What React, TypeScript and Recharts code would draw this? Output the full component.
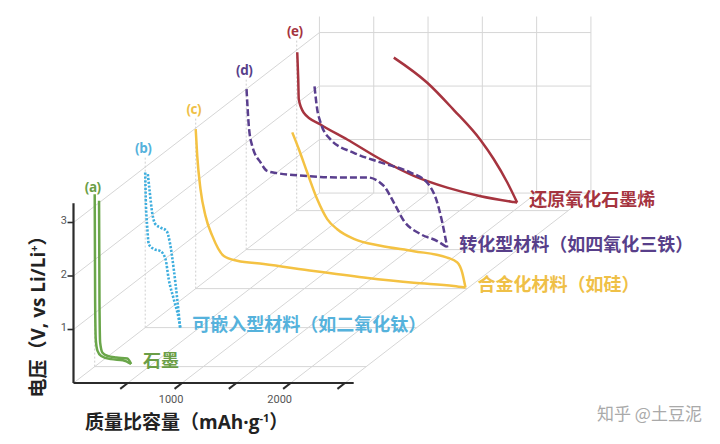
import React from 'react';
import { ComposedChart, Line, XAxis, YAxis } from 'recharts';

// each curve: [capacity mAh/g, voltage V vs Li/Li+]
const graphiteFirst = [[0, 3.22], [4, 1.2], [10, 0.5], [25, 0.3], [60, 0.2], [150, 0.14], [260, 0.12], [335, 0.05]];
const graphiteSecond = [[40, 3.1], [44, 1.2], [50, 0.45], [72, 0.26], [120, 0.2], [200, 0.17], [300, 0.15], [335, 0.05]];

const tio2Discharge = [[0, 2.9], [5, 2.4], [18, 1.9], [33, 1.56], [79, 1.47], [141, 1.43], [187, 1.28], [217, 0.9], [263, 0.53], [309, 0.16], [322, 0]];
const tio2Charge = [[24, 2.87], [42, 2.53], [64, 2.15], [95, 1.93], [141, 1.87], [196, 1.81], [227, 1.59], [263, 1.09], [295, 0.53], [322, 0]];

const siDischarge = [[0, 2.98], [14, 2.48], [44, 1.86], [90, 1.36], [152, 0.99], [259, 0.61], [382, 0.52], [627, 0.46], [1087, 0.33], [1548, 0.21], [2008, 0.11], [2377, 0.05], [2484, 0.02]];
const siCharge = [[889, 2.92], [949, 2.61], [1027, 2.17], [1119, 1.67], [1211, 1.3], [1303, 1.11], [1456, 0.93], [1702, 0.8], [2008, 0.7], [2316, 0.58], [2408, 0.49], [2454, 0.3], [2484, 0.02]];

const fe3o4Discharge = [[3, 3.0], [24, 2.31], [55, 1.94], [132, 1.63], [193, 1.47], [285, 1.43], [530, 1.38], [838, 1.35], [1114, 1.35], [1267, 1.19], [1359, 0.88], [1451, 0.54], [1605, 0.29], [1759, 0.16], [1851, 0.04]];
const fe3o4Charge = [[629, 3.05], [654, 2.62], [684, 2.38], [776, 2.06], [991, 1.81], [1237, 1.63], [1513, 1.44], [1667, 1.25], [1759, 0.88], [1805, 0.51], [1851, 0.04]];

const rgoDischarge = [[5, 2.96], [14, 2.46], [19, 2.08], [65, 1.83], [219, 1.61], [465, 1.33], [772, 0.96], [1078, 0.65], [1386, 0.43], [1694, 0.27], [1999, 0.16], [2030, 0.15]];
const rgoCharge = [[894, 2.86], [1202, 2.39], [1447, 1.88], [1692, 1.32], [1815, 0.96], [1938, 0.53], [2030, 0.15]];

const CAP_GRID = [0, 500, 1000, 1500, 2000, 2500];
const V_GRID = [0, 1, 2, 3];
const V_WALL = [1, 2, 3];
const FRONT_V_TICKS = [1, 2, 3];
const FRONT_CAP_TICKS = [500, 1000, 1500, 2000, 2500];
const FRONT_CAP_LABELS = [1000, 2000];

const W = 720;
const H = 444;

// oblique projection: capacity to the right, voltage up, depth up-right
const ORIGIN = { x: 73.5, y: 383 };
const CAP_PX = 0.1086;
const V_PX = 53.5;
const DEPTH = { x: 50.5, y: 39 };
const BACK_Z = 4.87;
const CAP_MAX = 2500;
const V_TOP = 3.3;
const PANEL_TOP = 3.2;

const proj = (cap: number, v: number, z: number) => ({
  x: ORIGIN.x + cap * CAP_PX + z * DEPTH.x,
  y: ORIGIN.y - v * V_PX - z * DEPTH.y,
});

const PANELS = [
  { id: 'e', z: 4.42, color: '#a6343f', dash: undefined, lines: [rgoDischarge, rgoCharge], label: '还原氧化石墨烯' },
  { id: 'd', z: 3.42, color: '#5a3f8e', dash: '7 3', lines: [fe3o4Discharge, fe3o4Charge], label: '转化型材料（如四氧化三铁）' },
  { id: 'c', z: 2.42, color: '#f4c243', dash: undefined, lines: [siDischarge, siCharge], label: '合金化材料（如硅）' },
  { id: 'b', z: 1.42, color: '#3eaede', dash: '2.2 1.6', lines: [tio2Discharge, tio2Charge], label: '可嵌入型材料（如二氧化钛）' },
  { id: 'a', z: 0.42, color: '#6aa64a', dash: undefined, lines: [graphiteFirst, graphiteSecond], label: '石墨' },
];

const LABEL_COLORS: Record<string, string> = {
  a: '#6b9e46', b: '#55b2dc', c: '#efc047', d: '#583f8a', e: '#a5343f',
};

const GRID = '#d6d6d6';

type Seg = { id: string; data: { x: number; y: number }[]; stroke: string; width: number; dash?: string };

const seg = (id: string, a: { x: number; y: number }, b: { x: number; y: number }, stroke = GRID, width = 1, dash?: string): Seg => ({
  id, data: [a, b], stroke, width, dash,
});

const gridSegs: Seg[] = [
  ...V_GRID.map((v) => seg(`bh${v}`, proj(0, v, BACK_Z), proj(CAP_MAX, v, BACK_Z))),
  ...CAP_GRID.map((c) => seg(`bv${c}`, proj(c, 0, BACK_Z), proj(c, V_TOP, BACK_Z))),
  ...CAP_GRID.map((c) => seg(`fl${c}`, proj(c, 0, 0), proj(c, 0, BACK_Z))),
  ...V_WALL.map((v) => seg(`wl${v}`, proj(0, v, 0), proj(0, v, BACK_Z))),
  ...PANELS.flatMap((p) => [
    seg(`pf${p.id}`, proj(0, 0, p.z), proj(CAP_MAX, 0, p.z)),
    seg(`pv${p.id}`, proj(0, 0, p.z), proj(0, PANEL_TOP, p.z), '#cfcfcf', 1, '2 2'),
  ]),
];

const AXIS = '#2b2b2b';
const axisSegs: Seg[] = [
  seg('xaxis', proj(0, 0, 0), proj(2580, 0, 0), AXIS, 2.2),
  seg('yaxis', proj(0, 0, 0), proj(0, 3.36, 0), AXIS, 2.2),
  ...FRONT_V_TICKS.map((v) => seg(`yt${v}`, proj(-55, v, 0), proj(0, v, 0), AXIS, 1.6)),
  ...FRONT_CAP_TICKS.map((c) => seg(`xt${c}`, proj(c, 0, 0), proj(c, 0, -0.15), AXIS, 2)),
];

const toPts = (arr: number[][], z: number) => arr.map(([c, v]) => proj(c, v, z));

const App = () => {
  const cjk = '"Noto Sans CJK SC", sans-serif';
  const latin = '"Open Sans", sans-serif';
  return (
    <div style={{ position: 'relative', width: W, height: H, background: '#fff' }}>
      <style>{'body{margin:0}'}</style>
      <ComposedChart width={W} height={H} margin={{ top: 0, right: 0, bottom: 0, left: 0 }}>
        <XAxis type="number" dataKey="x" domain={[0, W]} allowDataOverflow hide />
        <YAxis type="number" dataKey="y" domain={[0, H]} reversed allowDataOverflow hide />
        {[...gridSegs, ...axisSegs].map((s) => (
          <Line
            key={s.id}
            data={s.data}
            dataKey="y"
            type="linear"
            stroke={s.stroke}
            strokeWidth={s.width}
            strokeDasharray={s.dash}
            dot={false}
            activeDot={false}
            isAnimationActive={false}
          />
        ))}
        {PANELS.flatMap((p) =>
          p.lines.map((l, i) => (
            <Line
              key={`${p.id}-${i}`}
              data={toPts(l, p.z)}
              dataKey="y"
              type="monotoneX"
              stroke={p.color}
              strokeWidth={p.id === 'b' ? 2.6 : 2.5}
              strokeDasharray={p.dash}
              dot={false}
              activeDot={false}
              isAnimationActive={false}
            />
          ))
        )}
      </ComposedChart>
      <svg width={W} height={H} style={{ position: 'absolute', left: 0, top: 0, pointerEvents: 'none' }}>
        {PANELS.map((p) => {
          const top = proj(0, 3.36, p.z);
          const last = p.lines[0][p.lines[0].length - 1];
          const end = proj(last[0], last[1], p.z);
          return (
            <g key={p.id}>
              <text x={top.x - 2} y={top.y} dy="0.35em" textAnchor="middle" fontFamily={latin} fontWeight={700} fontSize={13.5} letterSpacing={-0.5} fill={LABEL_COLORS[p.id]}>
                ({p.id})
              </text>
              <text x={end.x + 12} y={end.y - 3} dy="0.36em" fontFamily={cjk} fontWeight={700} fontSize={18} fill={LABEL_COLORS[p.id]}>
                {p.label}
              </text>
            </g>
          );
        })}
        {FRONT_V_TICKS.map((v) => {
          const pt = proj(-60, v, 0);
          return (
            <text key={v} x={pt.x} y={pt.y - 2} dy="0.35em" textAnchor="end" fontFamily="Roboto, sans-serif" fontSize={11} fill="#555">
              {v}
            </text>
          );
        })}
        {FRONT_CAP_LABELS.map((c) => {
          const pt = proj(c, 0, 0);
          return (
            <text key={c} x={pt.x - 11} y={pt.y + 16} dy="0.35em" textAnchor="middle" fontFamily="Roboto, sans-serif" fontSize={11} fill="#555">
              {c}
            </text>
          );
        })}
        <text x={85} y={429} fontFamily={cjk} fontWeight={700} fontSize={19} fill="#222">
          质量比容量（<tspan fontFamily={latin}>mAh·g</tspan><tspan dy={-7} fontSize={11} fontFamily={latin}>-1</tspan><tspan dy={7}>）</tspan>
        </text>
        <text transform="translate(38 312) rotate(-90)" textAnchor="middle" dy="0.35em" fontFamily={cjk} fontWeight={700} fontSize={19} fill="#222">
          电压（<tspan fontFamily={latin}>V, vs Li/Li</tspan><tspan dy={-7} fontSize={11} fontFamily={latin}>+</tspan><tspan dy={7}>）</tspan>
        </text>
        <text x={597} y={414} dy="0.35em" fontFamily={cjk} fontSize={17} fill="#a9a9a9">
          知乎 @土豆泥
        </text>
      </svg>
    </div>
  );
};

export default App;
